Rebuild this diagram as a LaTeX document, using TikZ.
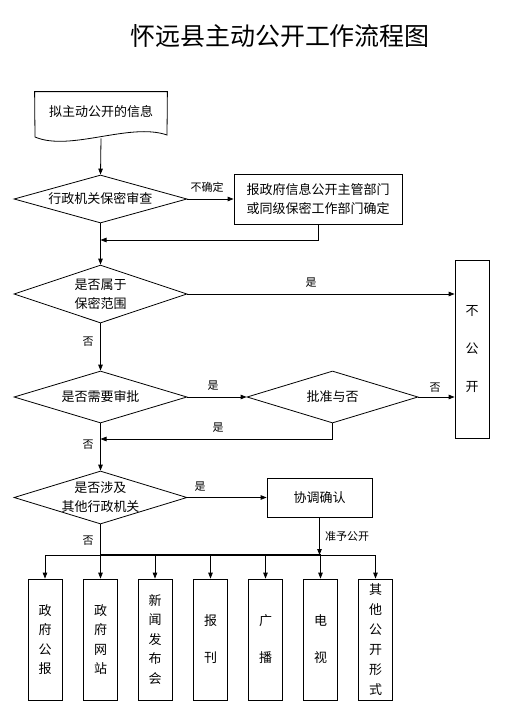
\documentclass[tikz,border=0pt]{standalone}
\usepackage{fontspec}
\setmainfont{Noto Sans CJK SC}
\usetikzlibrary{arrows.meta,shapes.geometric}
\begin{document}
\begin{tikzpicture}[x=1pt,y=-1pt,line width=0.8pt,
  arr/.style={-{Triangle[length=6pt,width=4.5pt]}},
  box/.style={draw,inner sep=0pt},
  dia/.style={draw,diamond,inner sep=0pt,aspect=3},
  txt/.style={font=\fontsize{13}{19}\selectfont,align=center,inner sep=0pt},
  vtxt/.style={font=\fontsize{13}{19.5}\selectfont,align=center,inner sep=0pt},
  lbl/.style={font=\fontsize{11}{13}\selectfont,inner sep=0pt}]
\useasboundingbox (0,0) rectangle (510,713);
% title
\node[font=\fontsize{25}{30}\selectfont,inner sep=0pt] (title) at (280,36) {怀远县主动公开工作流程图};
% document shape
\node[minimum width=132pt,minimum height=46pt,inner sep=0pt] (doc) at (101,115) {};
\draw (doc.north west) -- (doc.north east) -- (167,135)
  .. controls (130,122) and (70,152) .. (35,137) -- cycle;
\node[txt] (doctxt) at (101,112) {拟主动公开的信息};
% diamonds
\node[dia,minimum width=173pt,minimum height=48pt] (d1) at (100.5,199) {};
\node[txt] (d1t) at (d1) {行政机关保密审查};
\node[dia,minimum width=173pt,minimum height=58pt] (d2) at (100.5,294) {};
\node[txt] (d2t) at (d2) {是否属于\\保密范围};
\node[dia,minimum width=173pt,minimum height=52pt] (d3) at (100.5,397) {};
\node[txt] (d3t) at (d3) {是否需要审批};
\node[dia,minimum width=171pt,minimum height=52pt] (d4) at (332.5,397) {};
\node[txt] (d4t) at (d4) {批准与否};
\node[dia,minimum width=173pt,minimum height=53pt] (d5) at (100.5,497.5) {};
\node[txt] (d5t) at (d5) {是否涉及\\其他行政机关};
% boxes
\node[box,minimum width=168pt,minimum height=50pt] (b1) at (318,199) {};
\node[txt] (b1t) at (b1) {报政府信息公开主管部门\\或同级保密工作部门确定};
\node[box,minimum width=34pt,minimum height=178pt] (no) at (472,349) {};
\node[font=\fontsize{13}{38}\selectfont,align=center,inner sep=0pt] (not) at (no) {不\\公\\开};
\node[box,minimum width=105pt,minimum height=39pt] (xt) at (319.5,497.5) {};
\node[txt] (xtt) at (xt) {协调确认};
% bottom boxes
\foreach \n/\x in {p1/45,p2/100.5,p3/155,p4/210.5,p5/265.5,p6/320.5,p7/375.5}{
  \node[box,minimum width=34pt,minimum height=121pt] (\n) at (\x,639.5) {};
}
\node[vtxt] at (p1) {政\\府\\公\\报};
\node[vtxt] at (p2) {政\\府\\网\\站};
\node[vtxt] at (p3) {新\\闻\\发\\布\\会};
\node[font=\fontsize{13}{37}\selectfont,align=center,inner sep=0pt] at (p4) {报\\刊};
\node[font=\fontsize{13}{37}\selectfont,align=center,inner sep=0pt] at (p5) {广\\播};
\node[font=\fontsize{13}{37}\selectfont,align=center,inner sep=0pt] at (p6) {电\\视};
\node[font=\fontsize{13}{20}\selectfont,align=center,inner sep=0pt] at (p7) {其\\他\\公\\开\\形\\式};
% connectors
\draw[arr] (doc.south) -- (d1.north);
\draw[arr] (d1.east) -- (b1.west);
\node[lbl] at (207,187) {不确定};
\coordinate (m1) at (100.5,240);
\draw[arr] (b1.south) |- (m1);
\draw[arr] (d1.south) -- (d2.north);
\draw[arr] (d2.east) -- (d2.east -| no.west);
\node[lbl] at (311,283) {是};
\draw[arr] (d2.south) -- (d3.north);
\node[lbl] at (88,342) {否};
\draw[arr] (d3.east) -- (d4.west);
\node[lbl] at (213,386) {是};
\draw[arr] (d4.east) -- (d4.east -| no.west);
\node[lbl] at (435,388) {否};
\coordinate (m2) at (100.5,439);
\draw[arr] (d4.south) |- (m2);
\node[lbl] at (218,428) {是};
\draw[arr] (d3.south) -- (d5.north);
\node[lbl] at (88,445) {否};
\draw[arr] (d5.east) -- (xt.west);
\node[lbl] at (200,487) {是};
\coordinate (busL) at (45,555);
\coordinate (busR) at (375.5,555);
\coordinate (bus) at (100.5,555);
\coordinate (busM) at (320.5,555);
\draw (busL) -- (busR);
\draw[line width=1.8pt] (d5.south) -- (bus) -- (busM);
\draw[arr] (xt.south) -- (xt.south |- bus);
\node[lbl] at (88,541) {否};
\node[lbl] at (347,536) {准予公开};
\foreach \n in {p1,p2,p3,p4,p5,p6,p7}{
  \draw[arr] (\n.north |- bus) -- (\n.north);
}
\end{tikzpicture}
\end{document}
